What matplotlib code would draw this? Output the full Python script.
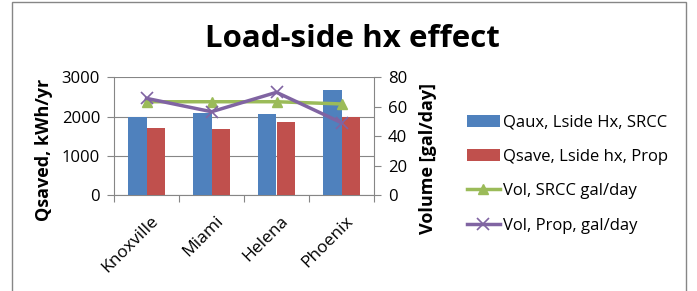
import matplotlib
matplotlib.use("Agg")
import matplotlib.pyplot as plt
import matplotlib.transforms as mtransforms
import numpy as np
from matplotlib.patches import Rectangle

cities = ["Knoxville", "Miami", "Helena", "Phoenix"]
qaux = [2000, 2100, 2070, 2690]
qsave = [1710, 1685, 1865, 2000]
vol_srcc = [63.5, 63.5, 63.5, 62.0]
vol_prop = [65.8, 56.7, 69.9, 49.2]

plt.rcParams['font.family'] = ['Open Sans', 'DejaVu Sans']

W, H = 697, 291
fig = plt.figure(figsize=(W/100, H/100), dpi=100)
fig.patches.append(Rectangle((12/W, -0.1), (686-12)/W, 1.1 - 2/H, transform=fig.transFigure,
                             fill=False, edgecolor='#868686', linewidth=1.0))

ax = fig.add_axes([114/W, 1-195/H, (374-114)/W, (195-77.5)/H])
x = np.arange(len(cities))
bw = 0.28
blue, red, green, purple = '#4F81BD', '#C0504D', '#9BBB59', '#8064A2'
b1 = ax.bar(x - bw/2, qaux, bw, color=blue, label='Qaux, Lside Hx, SRCC', zorder=3)
b2 = ax.bar(x + bw/2, qsave, bw, color=red, label='Qsave, Lside hx, Prop', zorder=3)
ax.set_xlim(-0.5, len(cities)-0.5)
ax.set_ylim(0, 3000)
ax.set_yticks([0, 1000, 2000, 3000])
ax.yaxis.grid(True, color='#868686', linewidth=0.8)
ax.set_axisbelow(True)
for s in ['top', 'right']:
    ax.spines[s].set_visible(False)
for s in ['left', 'bottom']:
    ax.spines[s].set_color('#868686')
ax.set_xticks(np.arange(-0.5, len(cities), 1.0))
ax.set_xticklabels([])
ax.set_xticks(x, minor=True)
ax.set_xticklabels(cities, minor=True, rotation=45, ha='right', rotation_mode='anchor', fontsize=12.5)
ax.tick_params(axis='x', which='minor', length=0, pad=13)
ax.tick_params(axis='x', which='major', length=5, color='#868686')
off = mtransforms.ScaledTranslation(4/100, 0, fig.dpi_scale_trans)
for lab in ax.get_xticklabels(minor=True):
    lab.set_transform(lab.get_transform() + off)
ax.tick_params(axis='y', length=5, color='#868686', labelsize=12, pad=5)

ax2 = ax.twinx()
l1, = ax2.plot(x, vol_srcc, color=green, linewidth=2.5, marker='^', markersize=7, label='Vol, SRCC gal/day', zorder=4)
l2, = ax2.plot(x, vol_prop, color=purple, linewidth=2.5, marker='x', markersize=8, markeredgewidth=1.2, label='Vol, Prop, gal/day', zorder=5)
ax2.set_ylim(0, 80)
ax2.set_yticks([0, 20, 40, 60, 80])
for s in ['top', 'left', 'bottom']:
    ax2.spines[s].set_visible(False)
ax2.spines['right'].set_color('#868686')
ax2.tick_params(axis='y', length=5, color='#868686', labelsize=12, pad=5)

fig.text(44/W, 1-150/H, 'Qsaved, kWh/yr', rotation=90, ha='center', va='center', fontsize=13, fontweight='bold')
fig.text(428/W, 1-158/H, 'Volume [gal/day]', rotation=90, ha='center', va='center', fontsize=13, fontweight='bold')

fig.text(352/W, 1-39/H, 'Load-side hx effect', ha='center', va='center', fontsize=22.5, fontweight='bold')

fig.legend(handles=[b1, b2, l1, l2], loc='center left', bbox_to_anchor=(460/W, 1-174/H),
           frameon=False, fontsize=12, handlelength=2.0, handletextpad=0.2, labelspacing=1.1,
           borderaxespad=0)

fig.savefig('out.png', dpi=100)
